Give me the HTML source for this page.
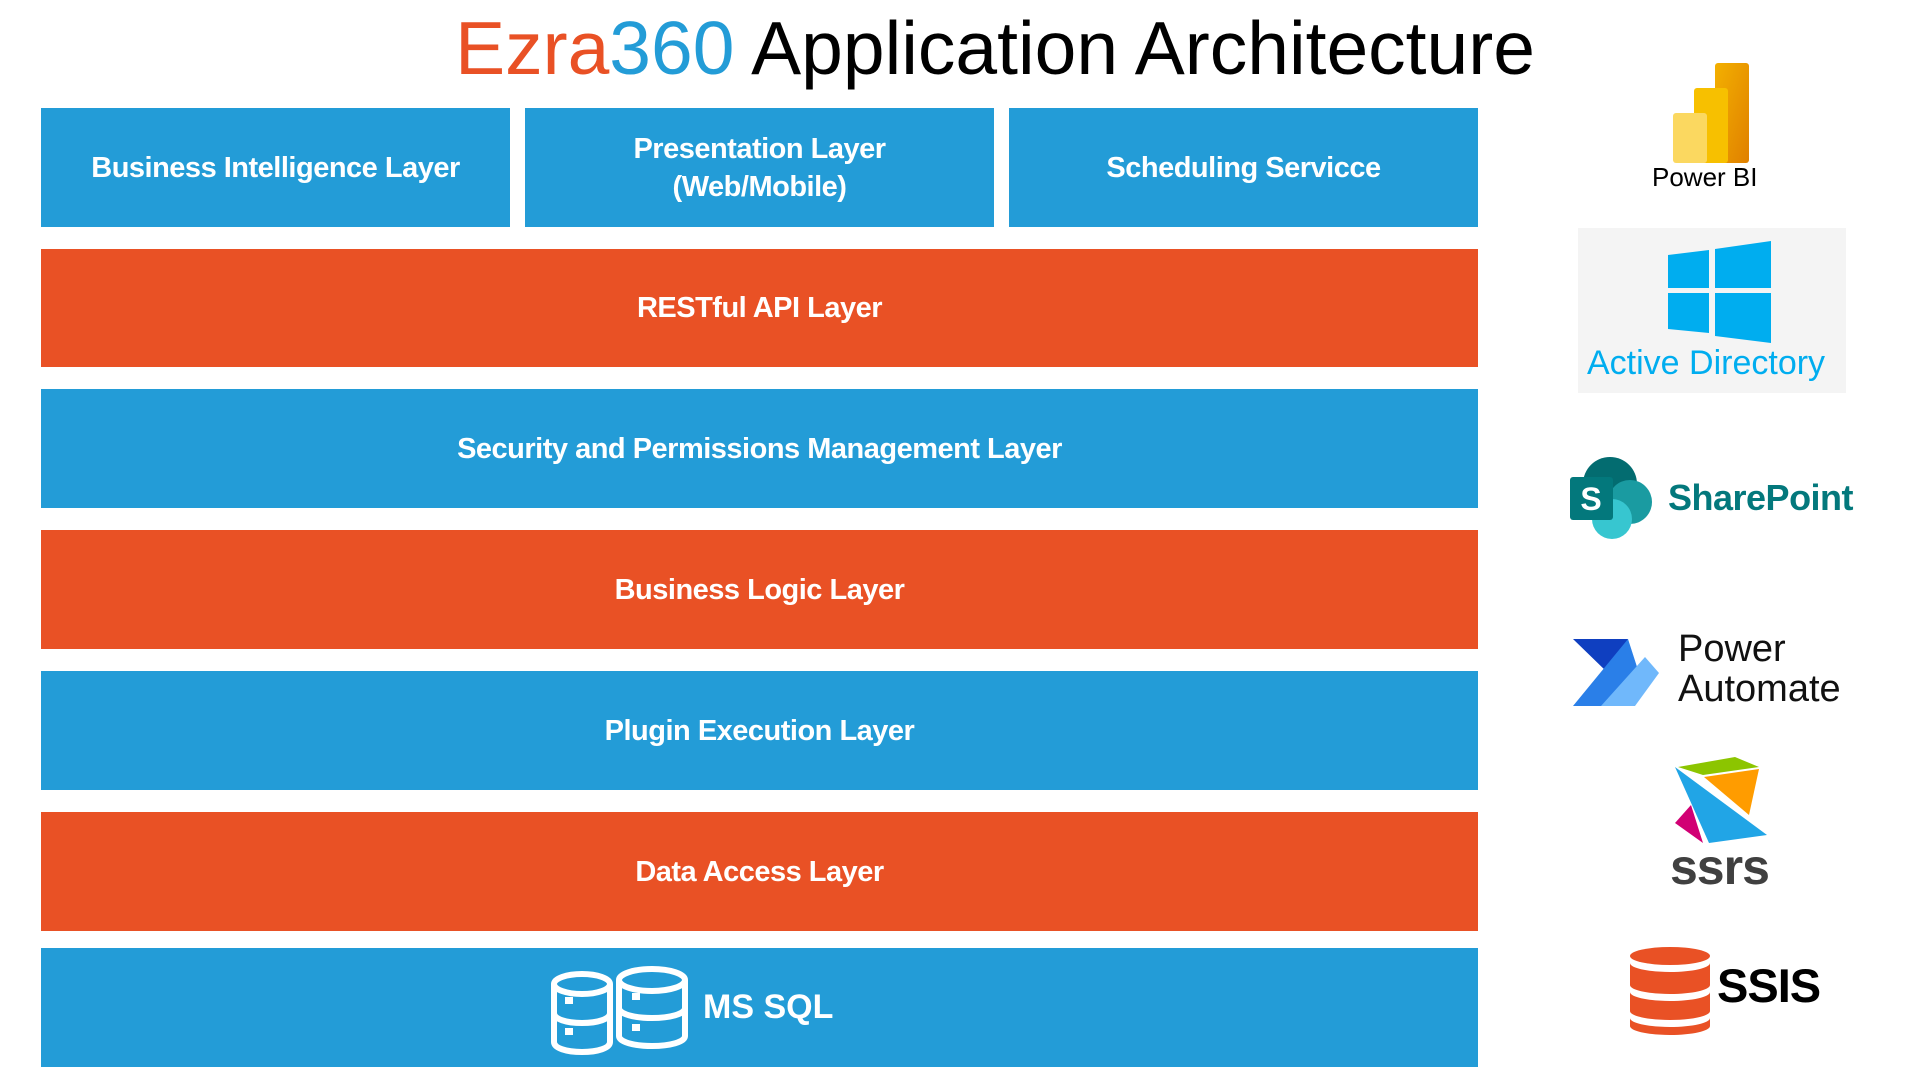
<!DOCTYPE html>
<html><head><meta charset="utf-8"><style>
body{margin:0;width:1920px;height:1080px;background:#fff;position:relative;overflow:hidden;font-family:"Liberation Sans",sans-serif}
.b{position:absolute;display:flex;align-items:center;justify-content:center;text-align:center;color:#fff;font-weight:bold;font-size:29px;letter-spacing:-0.5px;line-height:38px}
.bl{background:#239cd7}.or{background:#e95125}
.t{position:absolute;white-space:nowrap}
</style></head><body>
<div class="t" style="left:0;width:1990px;text-align:center;top:4px;font-size:75px;line-height:88px;color:#000">
<span style="color:#e95125">Ezra</span><span style="color:#239cd7">360</span> Application Architecture</div>

<div class="b bl" style="left:41px;top:108px;width:469px;height:119px">Business Intelligence Layer</div>
<div class="b bl" style="left:525px;top:108px;width:469px;height:119px">Presentation Layer<br>(Web/Mobile)</div>
<div class="b bl" style="left:1009px;top:108px;width:469px;height:119px">Scheduling Servicce</div>
<div class="b or" style="left:41px;top:249px;width:1437px;height:118px">RESTful API Layer</div>
<div class="b bl" style="left:41px;top:389px;width:1437px;height:119px">Security and Permissions Management Layer</div>
<div class="b or" style="left:41px;top:530px;width:1437px;height:119px">Business Logic Layer</div>
<div class="b bl" style="left:41px;top:671px;width:1437px;height:119px">Plugin Execution Layer</div>
<div class="b or" style="left:41px;top:812px;width:1437px;height:119px">Data Access Layer</div>
<div class="b bl" style="left:41px;top:948px;width:1437px;height:119px"></div>
<svg style="position:absolute;left:548px;top:962px" width="145" height="96" viewBox="0 0 145 96">
<g fill="none" stroke="#fff" stroke-width="6">
<ellipse cx="34" cy="22" rx="28" ry="10"/><path d="M6 22v58c0 6 12 10 28 10s28-4 28-10V22M6 51c0 6 12 10 28 10s28-4 28-10"/>
<ellipse cx="104" cy="18" rx="33" ry="11"/><path d="M71 18v56c0 6 15 10 33 10s33-4 33-10V18M71 46c0 6 15 10 33 10s33-4 33-10"/>
</g><g fill="#fff"><rect x="17" y="35" width="8" height="7"/><rect x="17" y="66" width="8" height="7"/><rect x="84" y="31" width="8" height="7"/><rect x="84" y="62" width="8" height="7"/></g></svg>
<div class="t" style="left:703px;top:988px;color:#fff;font-weight:bold;font-size:34px">MS SQL</div>

<svg style="position:absolute;left:1673px;top:63px" width="76" height="100" viewBox="0 0 76 100">
<defs><linearGradient id="g1" x1="0" y1="0" x2="1" y2="1"><stop offset="0" stop-color="#f3b000"/><stop offset="1" stop-color="#e08000"/></linearGradient></defs>
<rect x="42" y="0" width="34" height="100" rx="3" fill="url(#g1)"/>
<rect x="21" y="25" width="34" height="75" rx="3" fill="#f7c000"/>
<rect x="0" y="50" width="34" height="50" rx="3" fill="#fbd860"/></svg>
<div class="t" style="left:1652px;top:162px;font-size:26px;color:#000">Power BI</div>

<div style="position:absolute;left:1578px;top:228px;width:268px;height:165px;background:#f4f4f4"></div>
<svg style="position:absolute;left:1668px;top:240px" width="103" height="104" viewBox="0 0 103 104">
<g fill="#00adef"><polygon points="0,15 41,10 41,48 0,48"/><polygon points="47,9 103,1 103,48 47,48"/><polygon points="0,53 41,53 41,93 0,89"/><polygon points="47,53 103,53 103,103 47,96"/></g></svg>
<div class="t" style="left:1587px;top:344px;font-size:34px;color:#00adef">Active Directory</div>

<svg style="position:absolute;left:1570px;top:457px" width="85" height="85" viewBox="0 0 85 85">
<circle cx="40" cy="27" r="27" fill="#036c70"/><circle cx="60" cy="45" r="22" fill="#1a9ba1"/><circle cx="42" cy="62" r="20" fill="#37c6d0"/>
<rect x="0" y="20" width="43" height="43" rx="3" fill="#03787c"/>
<text x="21" y="53" text-anchor="middle" font-family="Liberation Sans" font-weight="bold" font-size="32" fill="#fff">S</text></svg>
<div class="t" style="left:1668px;top:477px;font-size:36px;font-weight:bold;color:#03787c;letter-spacing:-0.5px">SharePoint</div>

<svg style="position:absolute;left:1573px;top:639px" width="86" height="67" viewBox="0 0 86 67">
<polygon points="0,0 55,0 35,34 " fill="#0f3fc0"/>
<polygon points="0,67 30,67 66,34 55,0 " fill="#2a7fe8"/>
<polygon points="28,67 62,67 86,34 72,18 " fill="#70b8fb"/></svg>
<div class="t" style="left:1678px;top:629px;font-size:38px;line-height:40px;color:#111">Power<br>Automate</div>

<svg style="position:absolute;left:1675px;top:757px" width="95" height="90" viewBox="0 0 95 90">
<polygon points="3,10 60,0 84,10 28,18" fill="#8cc500"/>
<polygon points="29,20 84,12 74,58" fill="#ff9c00"/>
<polygon points="0,10 92,78 34,86" fill="#21a5e6"/>
<polygon points="16,48 28,86 0,66" fill="#d10074"/></svg>
<div class="t" style="left:1670px;top:838px;font-size:50px;font-weight:bold;color:#404040;letter-spacing:-1px">ssrs</div>

<svg style="position:absolute;left:1630px;top:947px" width="80" height="88" viewBox="0 0 80 88">
<g fill="#e95125"><ellipse cx="40" cy="9" rx="40" ry="9"/><path d="M0 16c0 5 18 9 40 9s40-4 40-9v22c0 5-18 9-40 9S0 43 0 38z"/><path d="M0 45c0 5 18 9 40 9s40-4 40-9v19c0 5-18 9-40 9S0 69 0 64z"/><path d="M0 71c0 5 18 9 40 9s40-4 40-9v8c0 5-18 9-40 9S0 84 0 79z"/></g></svg>
<div class="t" style="left:1717px;top:958px;font-size:47px;font-weight:bold;color:#000;letter-spacing:-1px">SSIS</div>
</body></html>
